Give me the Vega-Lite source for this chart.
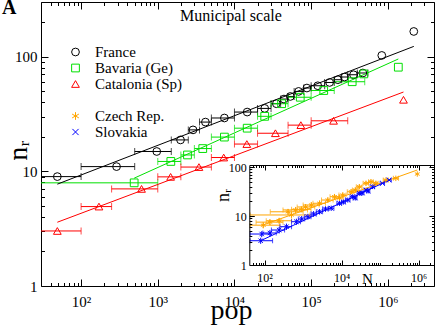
{
"$schema":"https://vega.github.io/schema/vega-lite/v6.json",
"width":393,"height":284,
"autosize":"none",
"padding":{"left":41,"top":2,"right":2,"bottom":41},
"background":"white",
"config":{"view":{"stroke":null},"font":"Liberation Serif",
 "axis":{"grid":false,"domainColor":"black","tickColor":"black","labelColor":"black","titleColor":"black","labelFont":"Liberation Serif","titleFont":"Liberation Serif","titleFontWeight":"normal","labelFlush":false,"labelOverlap":false,"domainWidth":1,"tickWidth":1}},
"title":{"text":"A","anchor":"start","frame":"group","orient":"top","dx":-39,"dy":39,"offset":0,"baseline":"alphabetic","font":"Liberation Serif","fontSize":20,"fontWeight":"bold","color":"black"},
"datasets":{
"main":[
{"s":"France","x":49,"y":9.0,"lo":10,"hi":100},
{"s":"France","x":290,"y":11.0,"lo":100,"hi":500},
{"s":"France","x":970,"y":14.9,"lo":500,"hi":1500},
{"s":"France","x":1980,"y":18.8,"lo":1500,"hi":2500},
{"s":"France","x":2880,"y":23.0,"lo":2500,"hi":3500},
{"s":"France","x":4180,"y":26.9,"lo":3500,"hi":5000},
{"s":"France","x":7390,"y":29.2,"lo":5000,"hi":10000},
{"s":"France","x":14650,"y":32.9,"lo":10000,"hi":20000},
{"s":"France","x":24800,"y":35.4,"lo":20000,"hi":30000},
{"s":"France","x":35200,"y":38.9,"lo":30000,"hi":40000},
{"s":"France","x":44200,"y":42.7,"lo":40000,"hi":50000},
{"s":"France","x":53500,"y":45.0,"lo":50000,"hi":60000},
{"s":"France","x":68600,"y":49.8,"lo":60000,"hi":80000},
{"s":"France","x":88000,"y":53.3,"lo":80000,"hi":100000},
{"s":"France","x":122000,"y":55.8,"lo":100000,"hi":150000},
{"s":"France","x":174000,"y":59.6,"lo":150000,"hi":200000},
{"s":"France","x":223000,"y":63.0,"lo":200000,"hi":250000},
{"s":"France","x":272000,"y":66.5,"lo":250000,"hi":300000},
{"s":"France","x":357000,"y":69.6,"lo":300000,"hi":400000},
{"s":"France","x":472000,"y":72.1,"lo":400000,"hi":550000},
{"s":"France","x":834000,"y":102.6},
{"s":"France","x":2180000,"y":166},
{"s":"Bavaria (Ge)","x":492,"y":7.94,"lo":10,"hi":1000},
{"s":"Bavaria (Ge)","x":1480,"y":12.2,"lo":1000,"hi":2000},
{"s":"Bavaria (Ge)","x":2440,"y":13.9,"lo":2000,"hi":3000},
{"s":"Bavaria (Ge)","x":3860,"y":15.8,"lo":3000,"hi":5000},
{"s":"Bavaria (Ge)","x":7390,"y":19.9,"lo":5000,"hi":10000},
{"s":"Bavaria (Ge)","x":14650,"y":23.8,"lo":10000,"hi":20000},
{"s":"Bavaria (Ge)","x":24800,"y":30.2,"lo":20000,"hi":30000},
{"s":"Bavaria (Ge)","x":41200,"y":38.9,"lo":30000,"hi":50000},
{"s":"Bavaria (Ge)","x":72100,"y":44.3,"lo":50000,"hi":100000},
{"s":"Bavaria (Ge)","x":146000,"y":50.7,"lo":100000,"hi":200000},
{"s":"Bavaria (Ge)","x":343000,"y":60.5,"lo":200000,"hi":500000},
{"s":"Bavaria (Ge)","x":486000,"y":70.8},
{"s":"Bavaria (Ge)","x":1370000,"y":81.0},
{"s":"Catalonia (Sp)","x":49,"y":3.02,"lo":10,"hi":100},
{"s":"Catalonia (Sp)","x":171,"y":4.93,"lo":100,"hi":250},
{"s":"Catalonia (Sp)","x":614,"y":7.03,"lo":250,"hi":1000},
{"s":"Catalonia (Sp)","x":1470,"y":8.95,"lo":1000,"hi":2000},
{"s":"Catalonia (Sp)","x":3440,"y":10.9,"lo":2000,"hi":5000},
{"s":"Catalonia (Sp)","x":7240,"y":13.2,"lo":5000,"hi":10000},
{"s":"Catalonia (Sp)","x":14500,"y":17.3,"lo":10000,"hi":20000},
{"s":"Catalonia (Sp)","x":34200,"y":21.5,"lo":20000,"hi":50000},
{"s":"Catalonia (Sp)","x":73400,"y":25.3,"lo":50000,"hi":100000},
{"s":"Catalonia (Sp)","x":196000,"y":27.6,"lo":100000,"hi":300000},
{"s":"Catalonia (Sp)","x":1600000,"y":42.1}
],
"fits":[
{"s":"France","x":49,"y":7.73},{"s":"France","x":2180000,"y":123},
{"s":"Bavaria (Ge)","x":492,"y":8.72},{"s":"Bavaria (Ge)","x":1370000,"y":95.5},
{"s":"Catalonia (Sp)","x":49,"y":3.6},{"s":"Catalonia (Sp)","x":1600000,"y":49.2}
],
"inset":[
{"s":"Czech Rep.","x":92,"y":6.5,"lo":42,"hi":250,"ylo":5.6,"yhi":7.4},
{"s":"Czech Rep.","x":137,"y":7.5,"lo":60,"hi":300,"ylo":6.5,"yhi":8.6},
{"s":"Czech Rep.","x":238,"y":8.0,"lo":110,"hi":500,"ylo":7.0,"yhi":9.2},
{"s":"Czech Rep.","x":406,"y":12.2,"lo":140,"hi":1000,"ylo":10.5,"yhi":14},
{"s":"Czech Rep.","x":497,"y":10.5,"lo":42,"hi":1500,"ylo":9.2,"yhi":12},
{"s":"Czech Rep.","x":641,"y":13.3,"lo":300,"hi":1300,"ylo":11.5,"yhi":15.3},
{"s":"Czech Rep.","x":900,"y":13.7,"lo":500,"hi":1600,"ylo":12,"yhi":15.6},
{"s":"Czech Rep.","x":1160,"y":15.3,"lo":700,"hi":2000,"ylo":13.4,"yhi":17.4},
{"s":"Czech Rep.","x":1630,"y":16.8,"lo":1000,"hi":2600,"ylo":14.8,"yhi":19},
{"s":"Czech Rep.","x":2670,"y":18.2,"lo":1800,"hi":3800,"ylo":16,"yhi":20.6},
{"s":"Czech Rep.","x":4380,"y":21.2,"lo":3000,"hi":6000,"ylo":18.8,"yhi":23.8},
{"s":"Czech Rep.","x":6510,"y":24.8,"lo":5000,"hi":8500,"ylo":22,"yhi":27.8},
{"s":"Czech Rep.","x":8770,"y":23.3,"lo":7000,"hi":11000,"ylo":20.8,"yhi":26},
{"s":"Czech Rep.","x":10700,"y":26.8,"lo":8500,"hi":13000,"ylo":24,"yhi":30},
{"s":"Czech Rep.","x":17600,"y":31.3,"lo":14000,"hi":21000,"ylo":28,"yhi":35},
{"s":"Czech Rep.","x":22600,"y":34,"lo":19000,"hi":27000,"ylo":30.5,"yhi":38},
{"s":"Czech Rep.","x":28800,"y":39.6,"lo":24000,"hi":34000,"ylo":35.5,"yhi":44},
{"s":"Czech Rep.","x":42900,"y":46.5,"lo":36000,"hi":50000,"ylo":42,"yhi":51.5},
{"s":"Czech Rep.","x":57700,"y":50.1,"lo":50000,"hi":66000,"ylo":45,"yhi":55.5},
{"s":"Czech Rep.","x":77600,"y":46.5,"lo":68000,"hi":88000,"ylo":42,"yhi":51.5},
{"s":"Czech Rep.","x":141000,"y":54.3,"lo":120000,"hi":165000},
{"s":"Czech Rep.","x":255000,"y":58.8,"lo":220000,"hi":300000},
{"s":"Czech Rep.","x":919000,"y":72.0},
{"s":"Slovakia","x":79,"y":3.13,"lo":42,"hi":161,"ylo":2.7,"yhi":3.6},
{"s":"Slovakia","x":84,"y":4.29,"lo":42,"hi":143,"ylo":3.7,"yhi":4.9},
{"s":"Slovakia","x":137,"y":4.5,"lo":90,"hi":200,"ylo":3.9,"yhi":5.2},
{"s":"Slovakia","x":238,"y":5.18,"lo":150,"hi":330,"ylo":4.4,"yhi":6.0},
{"s":"Slovakia","x":369,"y":6.05,"lo":250,"hi":500,"ylo":5.2,"yhi":7.0},
{"s":"Slovakia","x":668,"y":7.65,"lo":500,"hi":850,"ylo":6.6,"yhi":8.8},
{"s":"Slovakia","x":917,"y":8.7,"lo":750,"hi":1100,"ylo":7.5,"yhi":10},
{"s":"Slovakia","x":1330,"y":9.68,"lo":1100,"hi":1600,"ylo":8.4,"yhi":11.1},
{"s":"Slovakia","x":1870,"y":11,"lo":1600,"hi":2200,"ylo":9.6,"yhi":12.6},
{"s":"Slovakia","x":2670,"y":12.2,"lo":2200,"hi":3200,"ylo":10.7,"yhi":13.9},
{"s":"Slovakia","x":3810,"y":13.9,"lo":3200,"hi":4500,"ylo":12.2,"yhi":15.8},
{"s":"Slovakia","x":5350,"y":14.4,"lo":4500,"hi":6300,"ylo":12.7,"yhi":16.3},
{"s":"Slovakia","x":8770,"y":18.2,"lo":7500,"hi":10000,"ylo":16.1,"yhi":20.5},
{"s":"Slovakia","x":11100,"y":19.3,"lo":10000,"hi":12500,"ylo":17.1,"yhi":21.7},
{"s":"Slovakia","x":14400,"y":21.2,"lo":12500,"hi":16500,"ylo":18.8,"yhi":23.8},
{"s":"Slovakia","x":19300,"y":24.8,"lo":16500,"hi":22000,"ylo":22,"yhi":27.8},
{"s":"Slovakia","x":22600,"y":23.3,"lo":20000,"hi":25000,"ylo":20.7,"yhi":26.1},
{"s":"Slovakia","x":28800,"y":29.1,"lo":25000,"hi":33000,"ylo":26,"yhi":32.5},
{"s":"Slovakia","x":34400,"y":29.5,"lo":31000,"hi":38000,"ylo":26.4,"yhi":33},
{"s":"Slovakia","x":42900,"y":33.9,"lo":38000,"hi":48000,"ylo":30.4,"yhi":37.8},
{"s":"Slovakia","x":49100,"y":32.4,"lo":45000,"hi":54000,"ylo":29,"yhi":36.2},
{"s":"Slovakia","x":63400,"y":39.6,"lo":55000,"hi":72000,"ylo":35.5,"yhi":44.1},
{"s":"Slovakia","x":115000,"y":46.5,"lo":100000,"hi":130000},
{"s":"Slovakia","x":171000,"y":54.3,"lo":150000,"hi":195000}
],
"insetfits":[
{"s":"Czech Rep.","x":90,"y":6.55},{"s":"Czech Rep.","x":920000,"y":86.9},
{"s":"Slovakia","x":79,"y":3.13},{"s":"Slovakia","x":189000,"y":56.1}
]
},
"layer":[
{
"layer":[
{"data":{"name":"main"},"transform":[{"filter":"datum.lo != null"}],
 "mark":{"type":"rule","clip":true,"strokeWidth":1},
 "encoding":{
  "x":{"field":"lo","type":"quantitative","scale":{"type":"log","domain":[30,4000000],"nice":false},
   "axis":{"orient":"bottom","values":[40,50,60,70,80,90,100,200,300,400,500,600,700,800,900,1000,2000,3000,4000,5000,6000,7000,8000,9000,10000,20000,30000,40000,50000,60000,70000,80000,90000,100000,200000,300000,400000,500000,600000,700000,800000,900000,1000000,2000000,3000000],
    "labelExpr":"datum.value==100?'10²':datum.value==1000?'10³':datum.value==10000?'10⁴':datum.value==100000?'10⁵':datum.value==1000000?'10⁶':''",
    "tickSize":{"condition":{"test":"indexof([100,1000,10000,100000,1000000],datum.value)>=0","value":-7},"value":-3.5},
    "labelPadding":15,"labelFontSize":15,"title":"pop","titleFontSize":28,"titleX":190,"titleY":32,"titleBaseline":"alphabetic","titleAlign":"center"}},
  "x2":{"field":"hi"},
  "y":{"field":"y","type":"quantitative","scale":{"type":"log","domain":[1,300],"nice":false},
   "axis":{"orient":"left","values":[1,2,3,4,5,6,7,8,9,10,20,30,40,50,60,70,80,90,100,200,300],
    "labelExpr":"datum.value==1?'1':datum.value==10?'10':datum.value==100?'100':''",
    "tickSize":{"condition":{"test":"indexof([1,10,100],datum.value)>=0","value":-7},"value":-3.5},
    "labelPadding":11,"labelFontSize":15,"title":"nᵣ","titleFontSize":28,"titleX":-23,"titleY":148,"titleAngle":270,"titleBaseline":"middle","titleAlign":"center"}},
  "stroke":{"field":"s","type":"nominal","scale":{"domain":["France","Bavaria (Ge)","Catalonia (Sp)","Czech Rep.","Slovakia"],"range":["black","#00e000","#ff0000","#ffa500","#0000ff"]},"legend":null}
 }},
{"data":{"name":"main"},"transform":[{"filter":"datum.lo != null"},{"fold":["lo","hi"],"as":["k","v"]}],
 "mark":{"type":"tick","orient":"vertical","size":7,"thickness":1,"clip":true},
 "encoding":{
  "x":{"field":"v","type":"quantitative","scale":{"type":"log","domain":[30,4000000],"nice":false},"axis":null},
  "y":{"field":"y","type":"quantitative","scale":{"type":"log","domain":[1,300],"nice":false},"axis":null},
  "fill":{"field":"s","type":"nominal","scale":{"domain":["France","Bavaria (Ge)","Catalonia (Sp)","Czech Rep.","Slovakia"],"range":["black","#00e000","#ff0000","#ffa500","#0000ff"]},"legend":null}
 }},
{"data":{"name":"fits"},
 "mark":{"type":"line","strokeWidth":1,"clip":true},
 "encoding":{
  "x":{"field":"x","type":"quantitative","scale":{"type":"log","domain":[30,4000000],"nice":false},"axis":null},
  "y":{"field":"y","type":"quantitative","scale":{"type":"log","domain":[1,300],"nice":false},"axis":null},
  "stroke":{"field":"s","type":"nominal","legend":null}
 }},
{"data":{"name":"main"},
 "mark":{"type":"point","filled":false,"size":60,"strokeWidth":1,"opacity":1},
 "encoding":{
  "x":{"field":"x","type":"quantitative","scale":{"type":"log","domain":[30,4000000],"nice":false},
   "axis":{"orient":"top","values":[40,50,60,70,80,90,100,200,300,400,500,600,700,800,900,1000,2000,3000,4000,5000,6000,7000,8000,9000,10000,20000,30000,40000,50000,60000,70000,80000,90000,100000,200000,300000,400000,500000,600000,700000,800000,900000,1000000,2000000,3000000],
    "labels":false,"title":null,
    "tickSize":{"condition":{"test":"indexof([100,1000,10000,100000,1000000],datum.value)>=0","value":-7},"value":-3.5}}},
  "y":{"field":"y","type":"quantitative","scale":{"type":"log","domain":[1,300],"nice":false},
   "axis":{"orient":"right","values":[1,2,3,4,5,6,7,8,9,10,20,30,40,50,60,70,80,90,100,200,300],
    "labels":false,"title":null,
    "tickSize":{"condition":{"test":"indexof([1,10,100],datum.value)>=0","value":-7},"value":-3.5}}},
  "color":{"field":"s","type":"nominal","scale":{"domain":["France","Bavaria (Ge)","Catalonia (Sp)"," ","Czech Rep.","Slovakia"],"range":["black","#00e000","#ff0000","rgba(0,0,0,0)","#ffa500","#0000ff"]},
   "legend":{"orient":"none","legendX":27,"legendY":42.5,"title":null,"labelFont":"Liberation Serif","labelFontSize":15,"labelColor":"black","symbolSize":60,"symbolStrokeWidth":1,"rowPadding":0,"labelOffset":12,"padding":0,"labelLimit":200}},
  "shape":{"field":"s","type":"nominal","scale":{"domain":["France","Bavaria (Ge)","Catalonia (Sp)"," ","Czech Rep.","Slovakia"],"range":["circle","square","triangle-up","circle","M0,-1L0,1M-0.87,-0.5L0.87,0.5M-0.87,0.5L0.87,-0.5","M-0.8,-0.8L0.8,0.8M-0.8,0.8L0.8,-0.8"]},
   "legend":{"orient":"none","legendX":27,"legendY":42.5,"title":null,"labelFont":"Liberation Serif","labelFontSize":15,"labelColor":"black","symbolSize":60,"symbolStrokeWidth":1,"rowPadding":0,"labelOffset":12,"padding":0,"labelLimit":200}}
 }},
{"data":{"values":[{}]},
 "mark":{"type":"text","font":"Liberation Serif","fontSize":16,"baseline":"alphabetic","align":"center","color":"black"},
 "encoding":{
  "x":{"datum":9000,"type":"quantitative","scale":{"type":"log","domain":[30,4000000],"nice":false},"axis":null},
  "y":{"datum":205,"type":"quantitative","scale":{"type":"log","domain":[1,300],"nice":false},"axis":null},
  "text":{"value":"Municipal scale"}
 }}
],
"resolve":{"axis":{"x":"independent","y":"independent"}}
},
{
"layer":[
{"data":{"values":[{}]},
 "mark":{"type":"rect","fill":"white"},
 "encoding":{
  "x":{"datum":40,"type":"quantitative","scale":{"type":"log","domain":[40,2500000],"range":[208.3,393],"nice":false},"axis":null},
  "x2":{"datum":2500000},
  "y":{"datum":1,"type":"quantitative","scale":{"type":"log","domain":[1,110],"range":[263,163],"nice":false},"axis":null},
  "y2":{"datum":110}
 }},
{"data":{"name":"inset"},"transform":[{"filter":"datum.lo != null"}],
 "mark":{"type":"rule","strokeWidth":1,"clip":true},
 "encoding":{
  "x":{"field":"lo","type":"quantitative","scale":{"type":"log","domain":[40,2500000],"range":[208.3,393],"nice":false},
   "axis":{"orient":"bottom","offset":-21,"zindex":1,"values":[50,60,70,80,90,100,200,300,400,500,600,700,800,900,1000,2000,3000,4000,5000,6000,7000,8000,9000,10000,20000,30000,40000,50000,60000,70000,80000,90000,100000,200000,300000,400000,500000,600000,700000,800000,900000,1000000,2000000],
    "labelExpr":"datum.value==100?'10²':datum.value==10000?'10⁴':datum.value==1000000?'10⁶':''",
    "tickSize":{"condition":{"test":"indexof([100,10000,1000000],datum.value)>=0","value":-5},"value":-2.5},
    "labelPadding":12,"labelFontSize":12,"title":"N","titleFontSize":15,"titleX":326,"titleY":18,"titleBaseline":"alphabetic","titleAlign":"center"}},
  "x2":{"field":"hi"},
  "y":{"field":"y","type":"quantitative","scale":{"type":"log","domain":[1,110],"range":[263,163],"nice":false},
   "axis":{"orient":"left","offset":-208.3,"zindex":1,"values":[1,2,3,4,5,6,7,8,9,10,20,30,40,50,60,70,80,90,100],
    "labelExpr":"datum.value==1?'1':datum.value==10?'10':datum.value==100?'100':''",
    "tickSize":{"condition":{"test":"indexof([1,10,100],datum.value)>=0","value":-5},"value":-2.5},
    "labelPadding":8,"labelFontSize":12,"title":"nᵣ","titleFontSize":18,"titleX":-26,"titleY":193,"titleAngle":270,"titleBaseline":"middle","titleAlign":"center"}},
  "stroke":{"field":"s","type":"nominal","legend":null}
 }},
{"data":{"name":"inset"},"transform":[{"filter":"datum.lo != null"},{"fold":["lo","hi"],"as":["k","v"]}],
 "mark":{"type":"tick","orient":"vertical","size":5,"thickness":1,"clip":true},
 "encoding":{
  "x":{"field":"v","type":"quantitative","scale":{"type":"log","domain":[40,2500000],"range":[208.3,393],"nice":false},"axis":null},
  "y":{"field":"y","type":"quantitative","scale":{"type":"log","domain":[1,110],"range":[263,163],"nice":false},"axis":null},
  "fill":{"field":"s","type":"nominal","legend":null}
 }},
{"data":{"name":"inset"},"transform":[{"filter":"datum.ylo != null"}],
 "mark":{"type":"rule","strokeWidth":1},
 "encoding":{
  "x":{"field":"x","type":"quantitative","scale":{"type":"log","domain":[40,2500000],"range":[208.3,393],"nice":false},"axis":null},
  "y":{"field":"ylo","type":"quantitative","scale":{"type":"log","domain":[1,110],"range":[263,163],"nice":false},"axis":null},
  "y2":{"field":"yhi"},
  "stroke":{"field":"s","type":"nominal","legend":null}
 }},
{"data":{"name":"insetfits"},
 "mark":{"type":"line","strokeWidth":1},
 "encoding":{
  "x":{"field":"x","type":"quantitative","scale":{"type":"log","domain":[40,2500000],"range":[208.3,393],"nice":false},"axis":null},
  "y":{"field":"y","type":"quantitative","scale":{"type":"log","domain":[1,110],"range":[263,163],"nice":false},"axis":null},
  "stroke":{"field":"s","type":"nominal","legend":null}
 }},
{"data":{"name":"inset"},
 "mark":{"type":"point","filled":false,"size":30,"strokeWidth":1,"opacity":1},
 "encoding":{
  "x":{"field":"x","type":"quantitative","scale":{"type":"log","domain":[40,2500000],"range":[208.3,393],"nice":false},
   "axis":{"orient":"top","offset":-163,"zindex":1,"values":[50,60,70,80,90,100,200,300,400,500,600,700,800,900,1000,2000,3000,4000,5000,6000,7000,8000,9000,10000,20000,30000,40000,50000,60000,70000,80000,90000,100000,200000,300000,400000,500000,600000,700000,800000,900000,1000000,2000000],
    "labels":false,"title":null,
    "tickSize":{"condition":{"test":"indexof([100,10000,1000000],datum.value)>=0","value":-5},"value":-2.5}}},
  "y":{"field":"y","type":"quantitative","scale":{"type":"log","domain":[1,110],"range":[263,163],"nice":false},
   "axis":{"orient":"right","offset":0,"zindex":1,"values":[1,2,3,4,5,6,7,8,9,10,20,30,40,50,60,70,80,90,100],
    "labels":false,"title":null,
    "tickSize":{"condition":{"test":"indexof([1,10,100],datum.value)>=0","value":-5},"value":-2.5}}},
  "color":{"field":"s","type":"nominal"},
  "shape":{"field":"s","type":"nominal"}
 }}
],
"resolve":{"axis":{"x":"independent","y":"independent"}}
}
],
"resolve":{"scale":{"x":"independent","y":"independent"}}
}
